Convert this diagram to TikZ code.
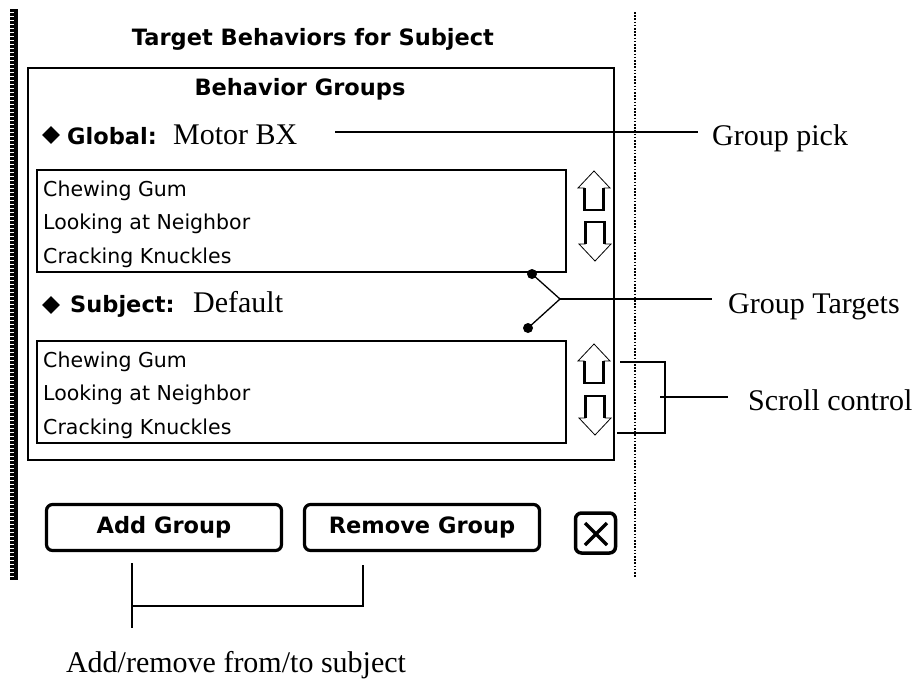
\documentclass[tikz,border=0pt]{standalone}
\usepackage{fontspec}
\setmainfont{Liberation Serif}
\newfontfamily\uifont{DejaVu Sans}
\usetikzlibrary{positioning,calc,shapes.geometric}

\tikzset{
  winframe/.style={draw, line width=2.2pt},
  listbox/.style={draw, line width=2pt, anchor=north west, minimum width=529pt, minimum height=102pt, inner sep=0},
  listitem/.style={anchor=base west, inner sep=0, font=\uifont\fontsize{20.5}{20.5}\selectfont},
  uibold/.style={inner sep=0, font=\uifont\bfseries\fontsize{22.5}{22.5}\selectfont},
  nyvalue/.style={anchor=base west, inner sep=0, font=\fontsize{30}{30}\selectfont},
  bullet/.style={diamond, fill, inner sep=0, minimum size=18pt},
  uibutton/.style={draw, line width=3.2pt, rounded corners=6pt, minimum width=235pt, minimum height=46pt, uibold},
  note/.style={anchor=base west, inner sep=0, font=\fontsize{30}{30}\selectfont},
  pointer/.style={line width=1.3pt},
  tdot/.style={circle, fill, inner sep=0, minimum size=10pt},
  scrollarrow/.pic={
    \draw[line width=0.8pt] (-9.5,-2) -- (-16,-2) -- (0,-19) -- (16,-2) -- (9.5,-2);
    \draw[line width=2.6pt] (-9.5,-2) -- (-9.5,20) -- (9.5,20) -- (9.5,-2);
  }
}

\begin{document}
\begin{tikzpicture}[x=1pt,y=-1pt]
\useasboundingbox (0,0) rectangle (917,678);

% window edge and page guide
\draw[line width=4pt] (16,9) -- (16,580);
\draw[line width=4pt, dash pattern=on 2.6pt off 1.4pt] (12,9) -- (12,580);
\draw[line width=1.6pt, dash pattern=on 1.6pt off 1.6pt] (635,12) -- (635,578);

\node[uibold, anchor=base] (title) at (313,45) {Target Behaviors for Subject};
\draw[winframe] (28,68) rectangle (614,460);
\node[uibold, anchor=base] (groups) at (300,95) {Behavior Groups};

% global group
\node[bullet] (gbul) at (51,135) {};
\node[uibold, anchor=base west] (global) at (67,144) {Global:};
\node[nyvalue] (globalval) at (173,144) {Motor BX};
\node[listbox] (glist) at (36,169) {};
\foreach \txt [count=\i] in {Chewing Gum, Looking at Neighbor, Cracking Knuckles}
  \node[listitem] (gitem\i) at ($(glist.north west)+(7,27+33.5*\i-33.5)$) {\txt};
\pic at (594,190) {scrollarrow};
\pic[yscale=-1] at (595,242) {scrollarrow};

% subject group
\node[bullet] (sbul) at (51,305) {};
\node[uibold, anchor=base west] (subject) at (70,312) {Subject:};
\node[nyvalue] (subjectval) at (193,312) {Default};
\node[listbox] (slist) at (36,340) {};
\foreach \txt [count=\i] in {Chewing Gum, Looking at Neighbor, Cracking Knuckles}
  \node[listitem] (sitem\i) at ($(slist.north west)+(7,27+33.5*\i-33.5)$) {\txt};
\pic at (594,363) {scrollarrow};
\pic[yscale=-1] at (595,416) {scrollarrow};

% buttons
\node[uibutton] (addbtn) at (164,527.5) {Add Group};
\node[uibutton] (rembtn) at (422,527.5) {Remove Group};
\node[draw, line width=3.5pt, rounded corners=6pt, minimum size=40pt] (closebox) at (595.5,533) {};
\draw[line width=3.5pt] (585,523) -- (607,545) (585,545) -- (607,523);

% callouts
\coordinate (pickend) at (335,132);
\node[note] (pick) at (712,145) {Group pick};
\draw[pointer] (pickend) -- ([xshift=-14pt]pick.west |- pickend);

\node[tdot] (tdot1) at (532,274) {};
\node[tdot] (tdot2) at (528,328) {};
\coordinate (tjoin) at (560,299);
\node[note] (targets) at (728,313) {Group Targets};
\draw[pointer] (tdot1.center) -- (tjoin) -- (tdot2.center);
\draw[pointer] (tjoin) -- ([xshift=-16pt]targets.west |- tjoin);

\coordinate (sctop) at (620,362);
\coordinate (scbot) at (617,433);
\coordinate (scmid) at (660,397);
\node[note] (scroll) at (748,410) {Scroll control};
\draw[pointer] (sctop) -- (665,362) -- (665,433) -- (scbot);
\draw[pointer] (scmid) -- ([xshift=-20pt]scroll.west |- scmid);

\coordinate (addtip) at (132,563);
\coordinate (remtip) at (363,565);
\coordinate (addknee) at (132,606);
\coordinate (addfoot) at (132,628);
\node[note, anchor=base] (addnote) at (236,672) {Add/remove from/to subject};
\draw[pointer] (addtip) -- (addfoot);
\draw[pointer] (remtip) |- (addknee);
\end{tikzpicture}
\end{document}
